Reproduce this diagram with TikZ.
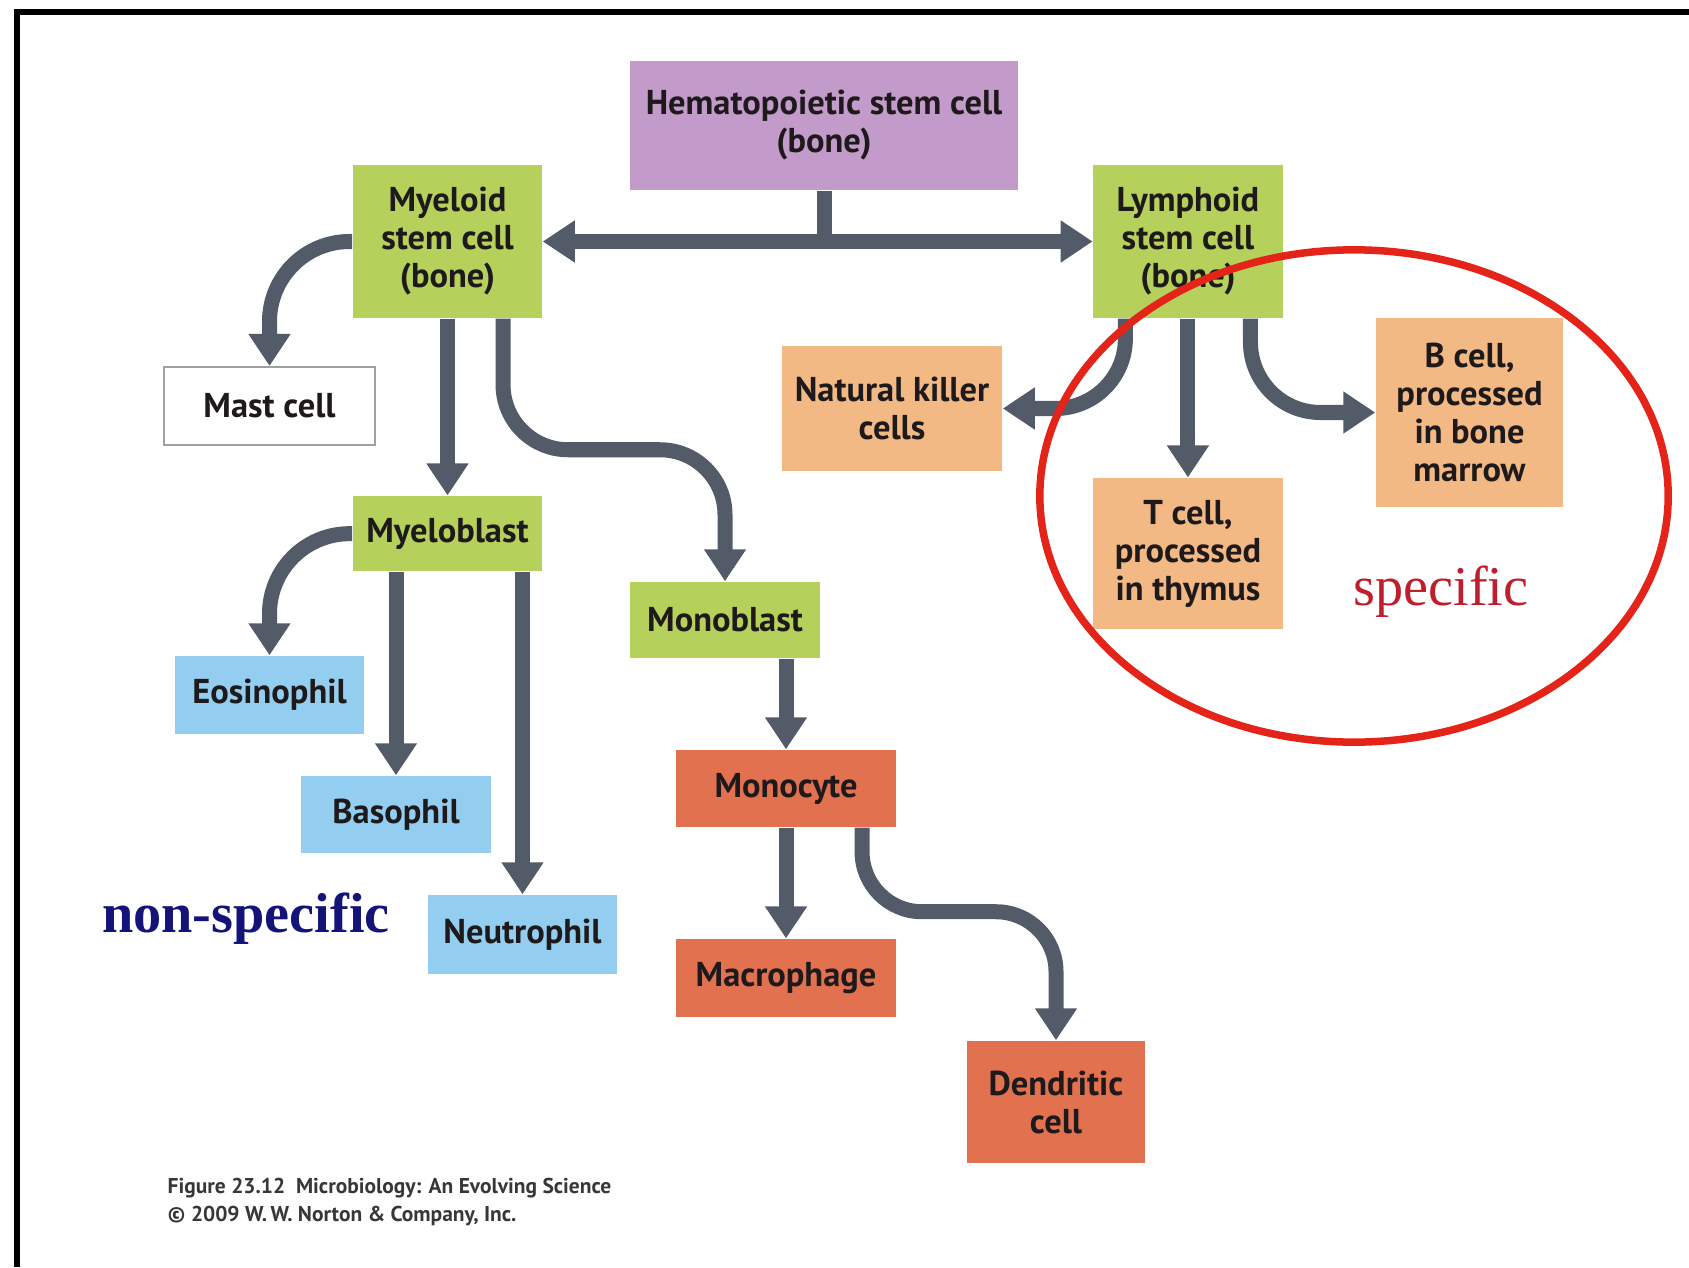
\documentclass[tikz,border=0pt]{standalone}
\usepackage{fontspec}
\setmainfont{Liberation Serif}
\setsansfont{PT Sans}
\usetikzlibrary{arrows.meta, positioning}
\definecolor{ink}{RGB}{30,26,27}
\definecolor{hsccol}{RGB}{194,155,202}
\definecolor{stemcol}{RGB}{181,208,91}
\definecolor{lymcol}{RGB}{243,185,133}
\definecolor{granucol}{RGB}{147,206,240}
\definecolor{monocol}{RGB}{226,113,79}
\definecolor{flowcol}{RGB}{83,91,104}
\definecolor{ringcol}{RGB}{228,35,25}
\definecolor{navy}{RGB}{20,20,120}
\definecolor{wine}{RGB}{190,30,45}

\begin{document}
\begin{tikzpicture}[x=0.01cm, y=0.01cm, on grid,
		cell/.style={rectangle, inner sep=0pt, minimum width=1.89cm, minimum height=0.77cm, align=center, text=ink, font=\sffamily\bfseries\fontsize{9.8}{10.8}\selectfont},
		flow/.style={draw=flowcol, line width=0.15cm, -{Triangle[width=0.4cm, length=0.32cm]}},
		twoway/.style={flow, {Triangle[width=0.4cm, length=0.32cm]}-{Triangle[width=0.4cm, length=0.32cm]}},
		bendflow/.style={flow, rounded corners=#1}]
			\useasboundingbox (0,0) rectangle (1689,-1267);
			\draw[line width=0.06cm] (17,-1267) -- (17,-12) -- (1689,-12);
			% stem cells
			\node[cell, fill=hsccol, minimum width=3.88cm, minimum height=1.29cm] (Hs) at (824,-125.5) {Hematopoietic stem cell\\(bone)};
			\node[cell, fill=stemcol, minimum height=1.53cm] (My) at (447.5,-241.5) {Myeloid\\stem cell\\(bone)};
			\node[cell, fill=stemcol, minimum height=1.53cm] (Ly) [right=7.4cm of My] {Lymphoid\\stem cell\\(bone)};
			% lymphoid line
			\node[cell, fill=lymcol, minimum width=2.2cm, minimum height=1.25cm] (NK) at (892,-408.5) {Natural killer\\cells};
			\node[cell, fill=lymcol, minimum height=1.51cm] (Tc) [below=3.12cm of Ly] {T cell,\\processed\\in thymus};
			\node[cell, fill=lymcol, minimum width=1.87cm, minimum height=1.89cm] (Bc) at (1469.5,-412.5) {B cell,\\processed\\in bone\\marrow};
			% myeloid line
			\node[cell, draw={rgb,255:red,160;green,160;blue,160}, line width=0.02cm, fill=white, minimum width=2.11cm, minimum height=0.78cm] (Mast) at (269.5,-406) {Mast cell};
			\node[cell, fill=stemcol, minimum height=0.75cm] (Mbl) [below=2.92cm of My] {Myeloblast};
			\node[cell, fill=stemcol, minimum width=1.9cm, minimum height=0.76cm] (Mon) at (725,-620) {Monoblast};
			\node[cell, fill=granucol, minimum height=0.78cm] (Eo) at (269.5,-695) {Eosinophil};
			\node[cell, fill=granucol] (Ba) at (396,-814.5) {Basophil};
			\node[cell, fill=granucol, minimum height=0.79cm] (Ne) at (522.5,-934.5) {Neutrophil};
			\node[cell, fill=monocol, minimum width=2.2cm] (Mo) at (786,-788.5) {Monocyte};
			\node[cell, fill=monocol, minimum width=2.2cm, minimum height=0.78cm] (Ma) [below=1.895cm of Mo] {Macrophage};
			\node[cell, fill=monocol, minimum width=1.78cm, minimum height=1.22cm] (Dc) at (1056,-1102) {Dendritic\\cell};
			% arrows
			\draw[flow, -] (Hs.south) -- (Hs.south |- My.east);
			\draw[twoway] (My.east) -- (Ly.west);
			\draw[bendflow=0.8cm] (My.west) -| (Mast.north);
			\draw[flow] (My.south) -- (Mbl.north);
			\draw[bendflow=0.65cm] ([xshift=0.555cm]My.south) -- ++(0,-131) -| (Mon.north);
			\draw[bendflow=0.8cm] (Mbl.west) -| (Eo.north);
			\draw[flow] (Ba.north |- Mbl.south) -- (Ba.north);
			\draw[flow] (Ne.north |- Mbl.south) -- (Ne.north);
			\draw[flow] (Mo.north |- Mon.south) -- (Mo.north);
			\draw[flow] (Mo.south) -- (Ma.north);
			\draw[bendflow=0.6cm] ([xshift=0.76cm]Mo.south) -- ++(0,-84) -| (Dc.north);
			\draw[bendflow=0.7cm] ([xshift=-0.625cm]Ly.south) |- (NK.east);
			\draw[flow] (Ly.south) -- (Tc.north);
			\draw[bendflow=0.7cm] ([xshift=0.625cm]Ly.south) |- (Bc.west);
			% ring and labels
			\draw[ringcol, line width=0.075cm] (1354,-496) ellipse [x radius=3.14cm, y radius=2.46cm];
			\node[text=wine, font=\fontsize{16}{19}\selectfont] (spec) at (1441,-592) {specific};
			\node[text=navy, font=\bfseries\fontsize{16}{19}\selectfont] (nonspec) at (246,-919) {non-specific};
			\node[anchor=west, align=left, inner sep=0pt, text={rgb,255:red,55;green,55;blue,55}, font=\sffamily\bfseries\fontsize{6.1}{8}\selectfont] (fig) at (167,-1202) {Figure 23.12\ \ Microbiology: An Evolving Science\\\textcopyright{} 2009 W.\,W. Norton \& Company, Inc.};
		\end{tikzpicture}
\end{document}
